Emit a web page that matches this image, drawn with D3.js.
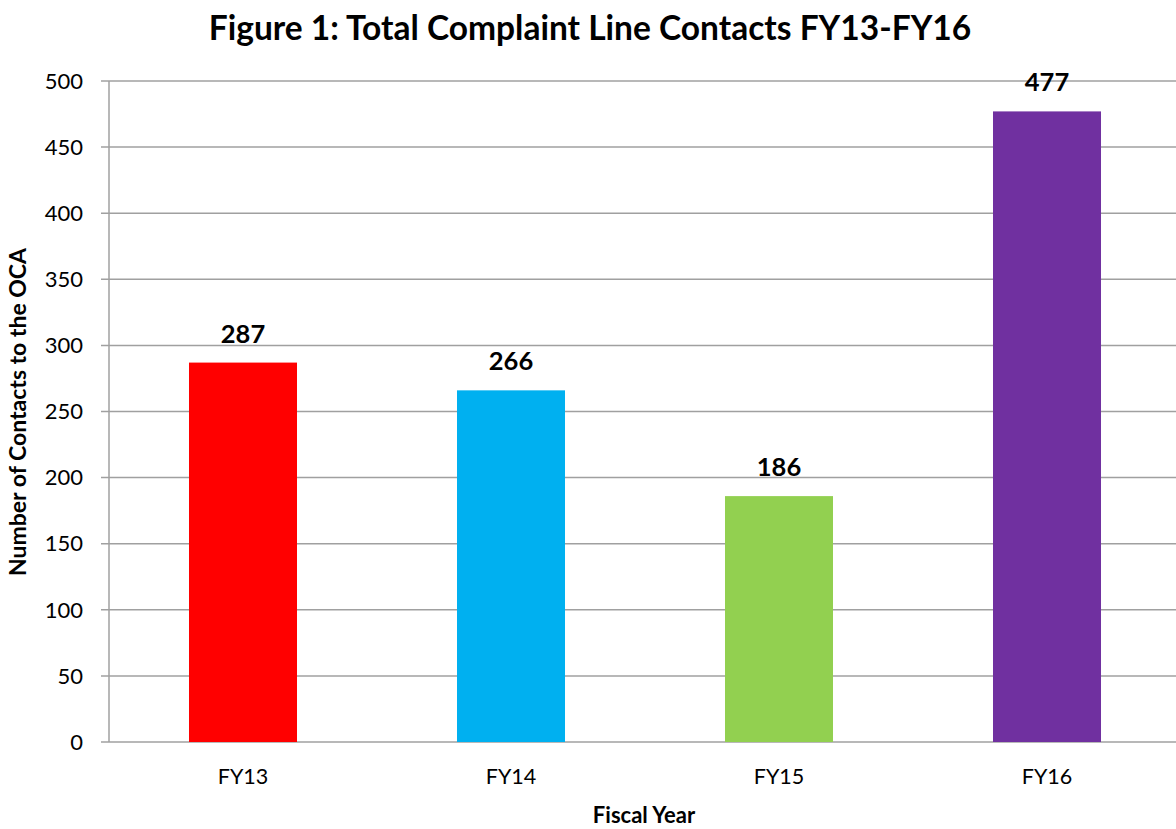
<!DOCTYPE html>
<html>
<head>
<meta charset="utf-8">
<script src="https://cdn.jsdelivr.net/npm/d3@7"></script>
<style>
  body { margin: 0; background: #fff; }
  svg { display: block; font-family: Lato, "Open Sans", sans-serif; }
</style>
</head>
<body>
<script>
// chart data
const years = ["FY13", "FY14", "FY15", "FY16"];
const contacts = [287, 266, 186, 477];
const barColors = ["#FF0000", "#00B0F0", "#92D050", "#7030A0"];
const yTicks = [0, 50, 100, 150, 200, 250, 300, 350, 400, 450, 500];

const width = 1176, height = 829;
const margin = { top: 81, right: -5, bottom: 87, left: 109 };

const svg = d3.select("body").append("svg")
  .attr("width", width)
  .attr("height", height);

const x = d3.scaleBand()
  .domain(years)
  .range([margin.left, width - margin.right])
  .paddingInner(0.597)
  .paddingOuter(0.2985);

const y = d3.scaleLinear()
  .domain([0, 500])
  .range([height - margin.bottom, margin.top]);

// gridlines
svg.append("g")
  .selectAll("line")
  .data(yTicks)
  .join("line")
  .attr("x1", margin.left - 8)
  .attr("x2", width)
  .attr("y1", d => y(d))
  .attr("y2", d => y(d))
  .attr("stroke", "#a0a0a0")
  .attr("stroke-width", 1.5);

// y axis line
svg.append("line")
  .attr("x1", margin.left).attr("x2", margin.left)
  .attr("y1", y(500)).attr("y2", y(0))
  .attr("stroke", "#a0a0a0")
  .attr("stroke-width", 1.5);

// y tick labels
svg.append("g")
  .selectAll("text")
  .data(yTicks)
  .join("text")
  .attr("x", 83)
  .attr("y", d => y(d))
  .attr("dy", "0.35em")
  .attr("text-anchor", "end")
  .attr("font-size", 22)
  .attr("fill", "#000")
  .text(d => d);

// bars
svg.append("g")
  .selectAll("rect")
  .data(contacts)
  .join("rect")
  .attr("x", (d, i) => x(years[i]))
  .attr("y", d => y(d))
  .attr("width", x.bandwidth())
  .attr("height", d => y(0) - y(d))
  .attr("fill", (d, i) => barColors[i]);

// value labels
svg.append("g")
  .selectAll("text")
  .data(contacts)
  .join("text")
  .attr("x", (d, i) => x(years[i]) + x.bandwidth() / 2)
  .attr("y", d => y(d) - 20)
  .attr("text-anchor", "middle")
  .attr("font-size", 25.5)
  .attr("font-weight", "bold")
  .text(d => d);

// category labels
svg.append("g")
  .selectAll("text")
  .data(years)
  .join("text")
  .attr("x", d => x(d) + x.bandwidth() / 2)
  .attr("y", 784)
  .attr("text-anchor", "middle")
  .attr("font-size", 21.5)
  .text(d => d);

// title
svg.append("text")
  .attr("x", 590)
  .attr("y", 40)
  .attr("text-anchor", "middle")
  .attr("font-size", 33.5)
  .attr("font-weight", "bold")
  .text("Figure 1: Total Complaint Line Contacts FY13-FY16");

// axis titles
svg.append("text")
  .attr("x", 644)
  .attr("y", 823)
  .attr("text-anchor", "middle")
  .attr("font-size", 22)
  .attr("font-weight", "bold")
  .text("Fiscal Year");

svg.append("text")
  .attr("transform", "translate(26,412) rotate(-90)")
  .attr("text-anchor", "middle")
  .attr("font-size", 23)
  .attr("font-weight", "bold")
  .text("Number of Contacts to the OCA");
</script>
</body>
</html>
